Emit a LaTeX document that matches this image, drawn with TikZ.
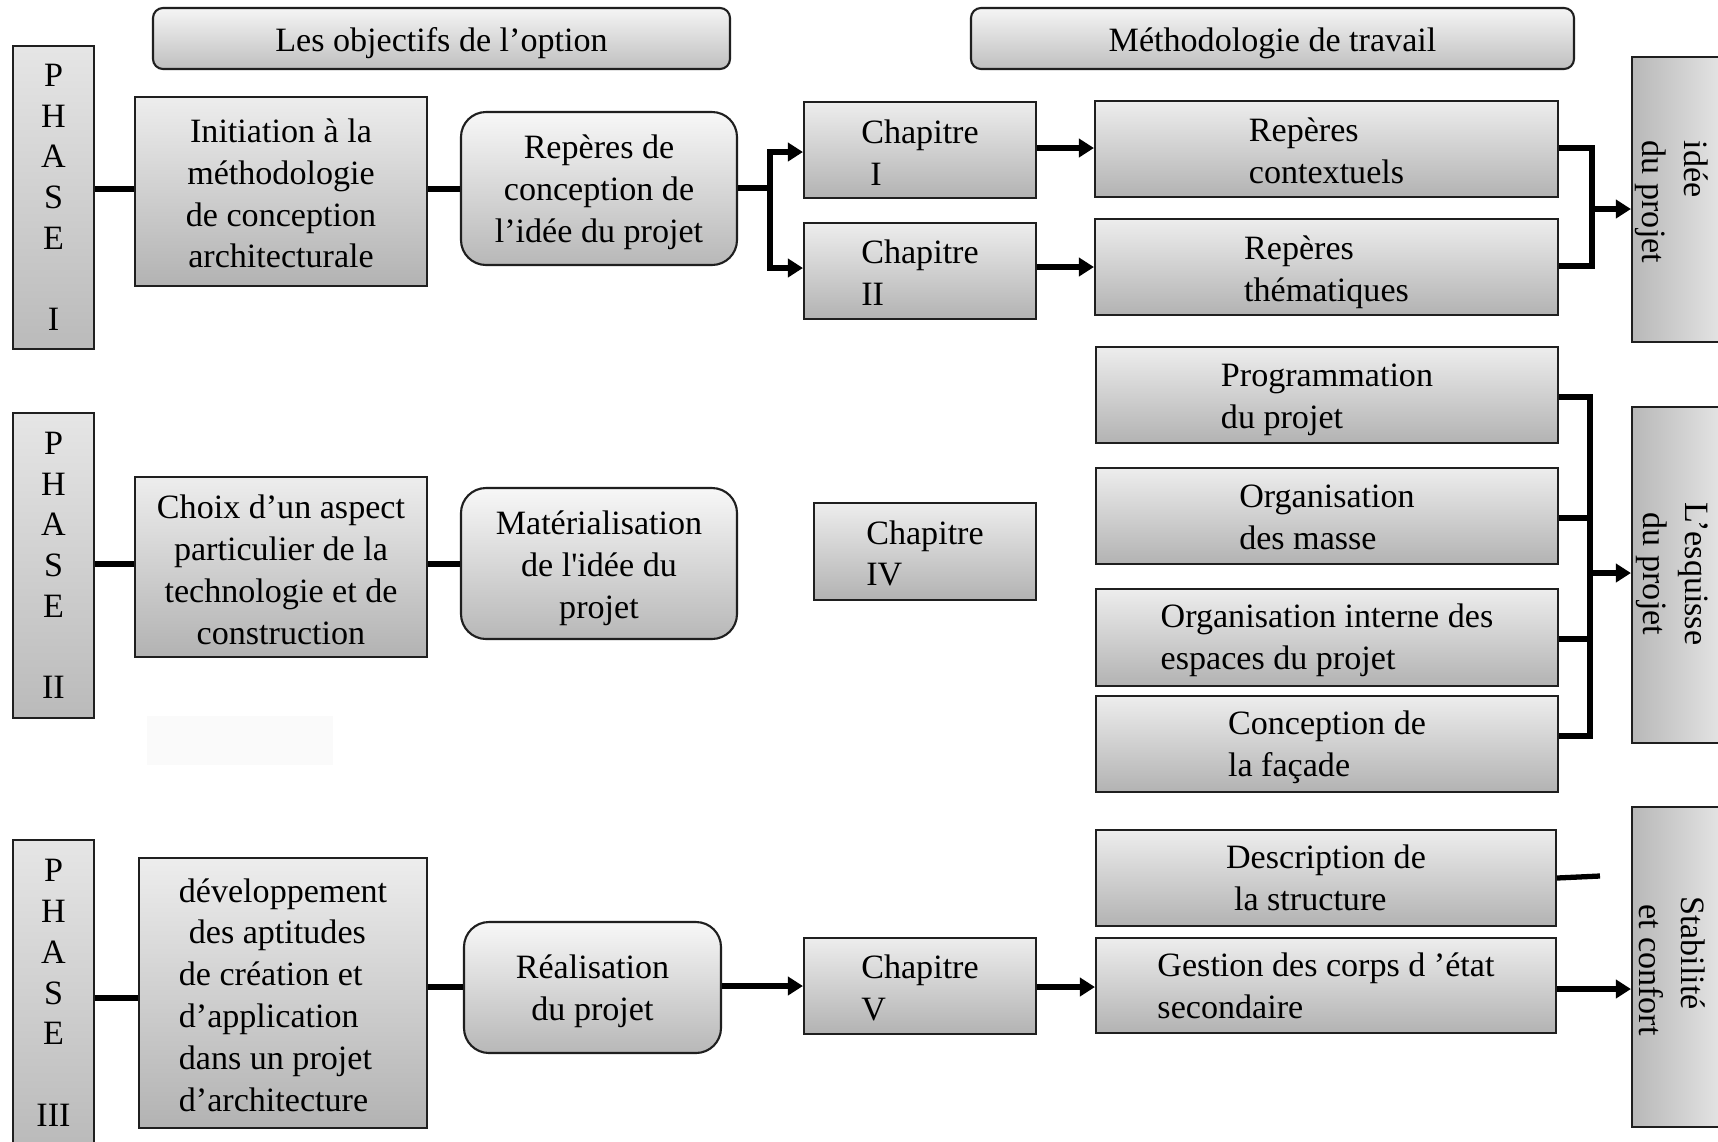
\documentclass[tikz,border=0pt]{standalone}
\usepackage{fontspec}
\setmainfont{Liberation Serif}
\usetikzlibrary{arrows.meta,calc}
\begin{document}
\begin{tikzpicture}[x=0.1mm,y=-0.1mm,
  font=\fontsize{9.7}{11.9}\selectfont,
  base/.style={draw=black!88, line width=0.6pt, top color=black!7, bottom color=black!30, inner sep=0pt},
  gbox/.style={base},
  rbox/.style={base, rounded corners=2.5mm, top color=black!3, bottom color=black!28},
  tbox/.style={base, align=center, rounded corners=1mm, top color=black!4, bottom color=black!25,
    execute at begin node={\rule{0pt}{9.6pt}}},
  sbox/.style={draw=black!88, line width=0.6pt, left color=black!28, right color=black!7, inner sep=0pt},
  pbox/.style={base, align=center, top color=black!10, bottom color=black!27, font=\fontsize{9.7}{11.6}\selectfont},
  ctext/.style={inner sep=0pt, align=center},
  ltext/.style={inner sep=0pt, align=left},
  conn/.style={line width=1.5pt, black},
  arr/.style={conn, -{Triangle[length=1.5mm,width=1.8mm]}},
  rtext/.style={rotate=-90, inner sep=0pt},
]
\useasboundingbox (0,0) rectangle (1718,1141);
\clip (0,0) rectangle (1718,1141);
\fill[white] (0,0) rectangle (1718,1141);
\fill[black!2] (147,716) rectangle (333,765);

% titles
\node[tbox, minimum width=57.7mm, minimum height=6.1mm] (t1) at (441.5,38.5) {Les objectifs de l’option};
\node[tbox, minimum width=60.3mm, minimum height=6.1mm] (t2) at (1272.5,38.5) {Méthodologie de travail};

% phases
\node[pbox, minimum width=8.1mm, minimum height=30.3mm] (p1) at (53.5,197.5) {P\\H\\A\\S\\E\\[11.6pt]I};
\node[pbox, minimum width=8.1mm, minimum height=30.5mm] (p2) at (53.5,565.5) {P\\H\\A\\S\\E\\[11.6pt]II};
\node[pbox, minimum width=8.1mm, minimum height=30.6mm] (p3) at (53.5,993) {P\\H\\A\\S\\E\\[11.6pt]III};

% objectives boxes
\node[gbox, minimum width=29.2mm, minimum height=18.9mm] (ini) at (281,191.5) {};
\node[gbox, minimum width=29.2mm, minimum height=18mm] (choix) at (281,567) {};
\node[gbox, minimum width=28.8mm, minimum height=27mm] (dev) at (283,993) {};
\node[rbox, minimum width=27.6mm, minimum height=15.3mm] (rc) at (599,188.5) {};
\node[rbox, minimum width=27.6mm, minimum height=15.1mm] (mat) at (599,563.5) {};
\node[rbox, minimum width=25.7mm, minimum height=13.1mm] (real) at (592.5,987.5) {};

\node[ctext] (init) at ([yshift=-0.2mm]ini.center) {Initiation à la\\méthodologie\\de conception\\architecturale};
\node[ctext] (choixt) at ([yshift=-0.3mm]choix.center) {Choix d’un aspect\\particulier de la\\technologie et de\\construction};
\node[ltext] (devt) at ([yshift=-0.2mm]dev.center) {développement\\\hspace{1mm}des aptitudes\\de création et\\d’application\\dans un projet\\d’architecture};
\node[ctext] (rct) at ([yshift=-0.4mm]rc.center) {Repères de\\conception de\\l’idée du projet};
\node[ctext] (matt) at ([yshift=-0.5mm]mat.center) {Matérialisation\\de l\textquotesingle idée du\\projet};
\node[ctext] (realt) at ([yshift=-0.4mm]real.center) {Réalisation\\du projet};

% chapters
\node[gbox, minimum width=23.2mm, minimum height=9.6mm] (ch1) at (920,150) {};
\node[gbox, minimum width=23.2mm, minimum height=9.6mm] (ch2) at (920,271) {};
\node[gbox, minimum width=22.2mm, minimum height=9.7mm] (ch4) at (925,551.5) {};
\node[gbox, minimum width=23.2mm, minimum height=9.6mm] (ch5) at (920,986) {};
\node[ltext] (ch1t) at ([yshift=-0.25mm]ch1.center) {Chapitre\\\hspace{0.9mm}I};
\node[ltext] (ch2t) at ([yshift=-0.15mm]ch2.center) {Chapitre\\II};
\node[ltext] (ch4t) at ([yshift=-0.2mm]ch4.center) {Chapitre\\IV};
\node[ltext] (ch5t) at ([yshift=-0.2mm]ch5.center) {Chapitre\\V};

% methodology boxes
\node[gbox, minimum width=46.3mm, minimum height=9.6mm] (ctx) at (1326.5,149) {};
\node[gbox, minimum width=46.3mm, minimum height=9.6mm] (them) at (1326.5,267) {};
\node[gbox, minimum width=46.2mm, minimum height=9.6mm] (prog) at (1327,395) {};
\node[gbox, minimum width=46.2mm, minimum height=9.6mm] (om) at (1327,516) {};
\node[gbox, minimum width=46.2mm, minimum height=9.7mm] (oi) at (1327,637.5) {};
\node[gbox, minimum width=46.2mm, minimum height=9.6mm] (fac) at (1327,744) {};
\node[gbox, minimum width=46mm, minimum height=9.6mm] (desc) at (1326,878) {};
\node[gbox, minimum width=46mm, minimum height=9.5mm] (gest) at (1326,985.5) {};
\node[ltext] (ctxt) at ([yshift=-0.2mm]ctx.center) {Repères\\contextuels};
\node[ltext] (themt) at ([yshift=-0.5mm]them.center) {Repères\\thématiques};
\node[ltext] (progt) at ([yshift=-0.5mm]prog.center) {Programmation\\du projet};
\node[ltext] (omt) at ([yshift=-0.1mm]om.center) {Organisation\\des masse};
\node[ltext] (oit) at ([yshift=-0.3mm]oi.center) {Organisation interne des\\espaces du projet};
\node[ltext] (fact) at ([yshift=-0.3mm]fac.center) {Conception de\\la façade};
\node[ltext] (desct) at (desc.center) {Description de\\\hspace{0.8mm}la structure};
\node[ltext] (gestt) at (gest.center) {Gestion des corps d ’état\\secondaire};

% side boxes
\node[sbox, minimum width=10.8mm, minimum height=28.5mm] (s1) at (1686,199.5) {};
\node[sbox, minimum width=10.8mm, minimum height=33.6mm] (s2) at (1686,575) {};
\node[sbox, minimum width=10.8mm, minimum height=32mm] (s3) at (1686,967) {};
\node[rtext, align=left] (s1t) at (1672,202) {idée\\du projet};
\node[rtext, align=center] (s2t) at (1672,574) {L’esquisse\\du projet};
\node[rtext, align=left] (s3t) at (1672,966) {Stabilité\\\hspace{0.8mm}et confort};

% connectors phase I
\draw[conn] (p1.east |- 0,189) -- (ini.west |- 0,189);
\draw[conn] (ini.east |- 0,189) -- (rc.west |- 0,189);
\coordinate (b1) at (770,188);
\draw[conn] (rc.east |- b1) -- (b1);
\draw[arr] (b1) |- (ch1.west |- 0,152);
\draw[arr] (b1) |- (ch2.west |- 0,268);
\draw[arr] (ch1.east |- 0,148) -- (ctx.west |- 0,148);
\draw[arr] (ch2.east |- 0,267) -- (them.west |- 0,267);
\coordinate (j1) at (1592,209);
\draw[conn] (ctx.east |- 0,148) -| (j1) |- (them.east |- 0,266);
\draw[arr] (j1) -- (s1.west |- j1);

% phase II
\draw[conn] (p2.east |- 0,564) -- (choix.west |- 0,564);
\draw[conn] (choix.east |- 0,564) -- (mat.west |- 0,564);
\coordinate (j2) at (1590,573);
\draw[conn] (prog.east |- 0,397) -| (j2);
\draw[conn] (fac.east |- 0,736) -| (j2);
\draw[conn] (om.east |- 0,518) -- (j2 |- 0,518);
\draw[conn] (oi.east |- 0,639) -- (j2 |- 0,639);
\draw[arr] (j2) -- (s2.west |- j2);

% phase III
\draw[conn] (p3.east |- 0,998) -- (dev.west |- 0,998);
\draw[conn] (dev.east |- 0,987) -- (real.west |- 0,987);
\draw[arr] (real.east |- 0,986) -- (ch5.west |- 0,986);
\draw[arr] (ch5.east |- 0,987) -- (gest.west |- 0,987);
\coordinate (d1) at (1600,876);
\draw[conn] (desc.east |- 0,878) -- (d1);
\draw[arr] (gest.east |- 0,989) -- (s3.west |- 0,989);
\end{tikzpicture}
\end{document}
